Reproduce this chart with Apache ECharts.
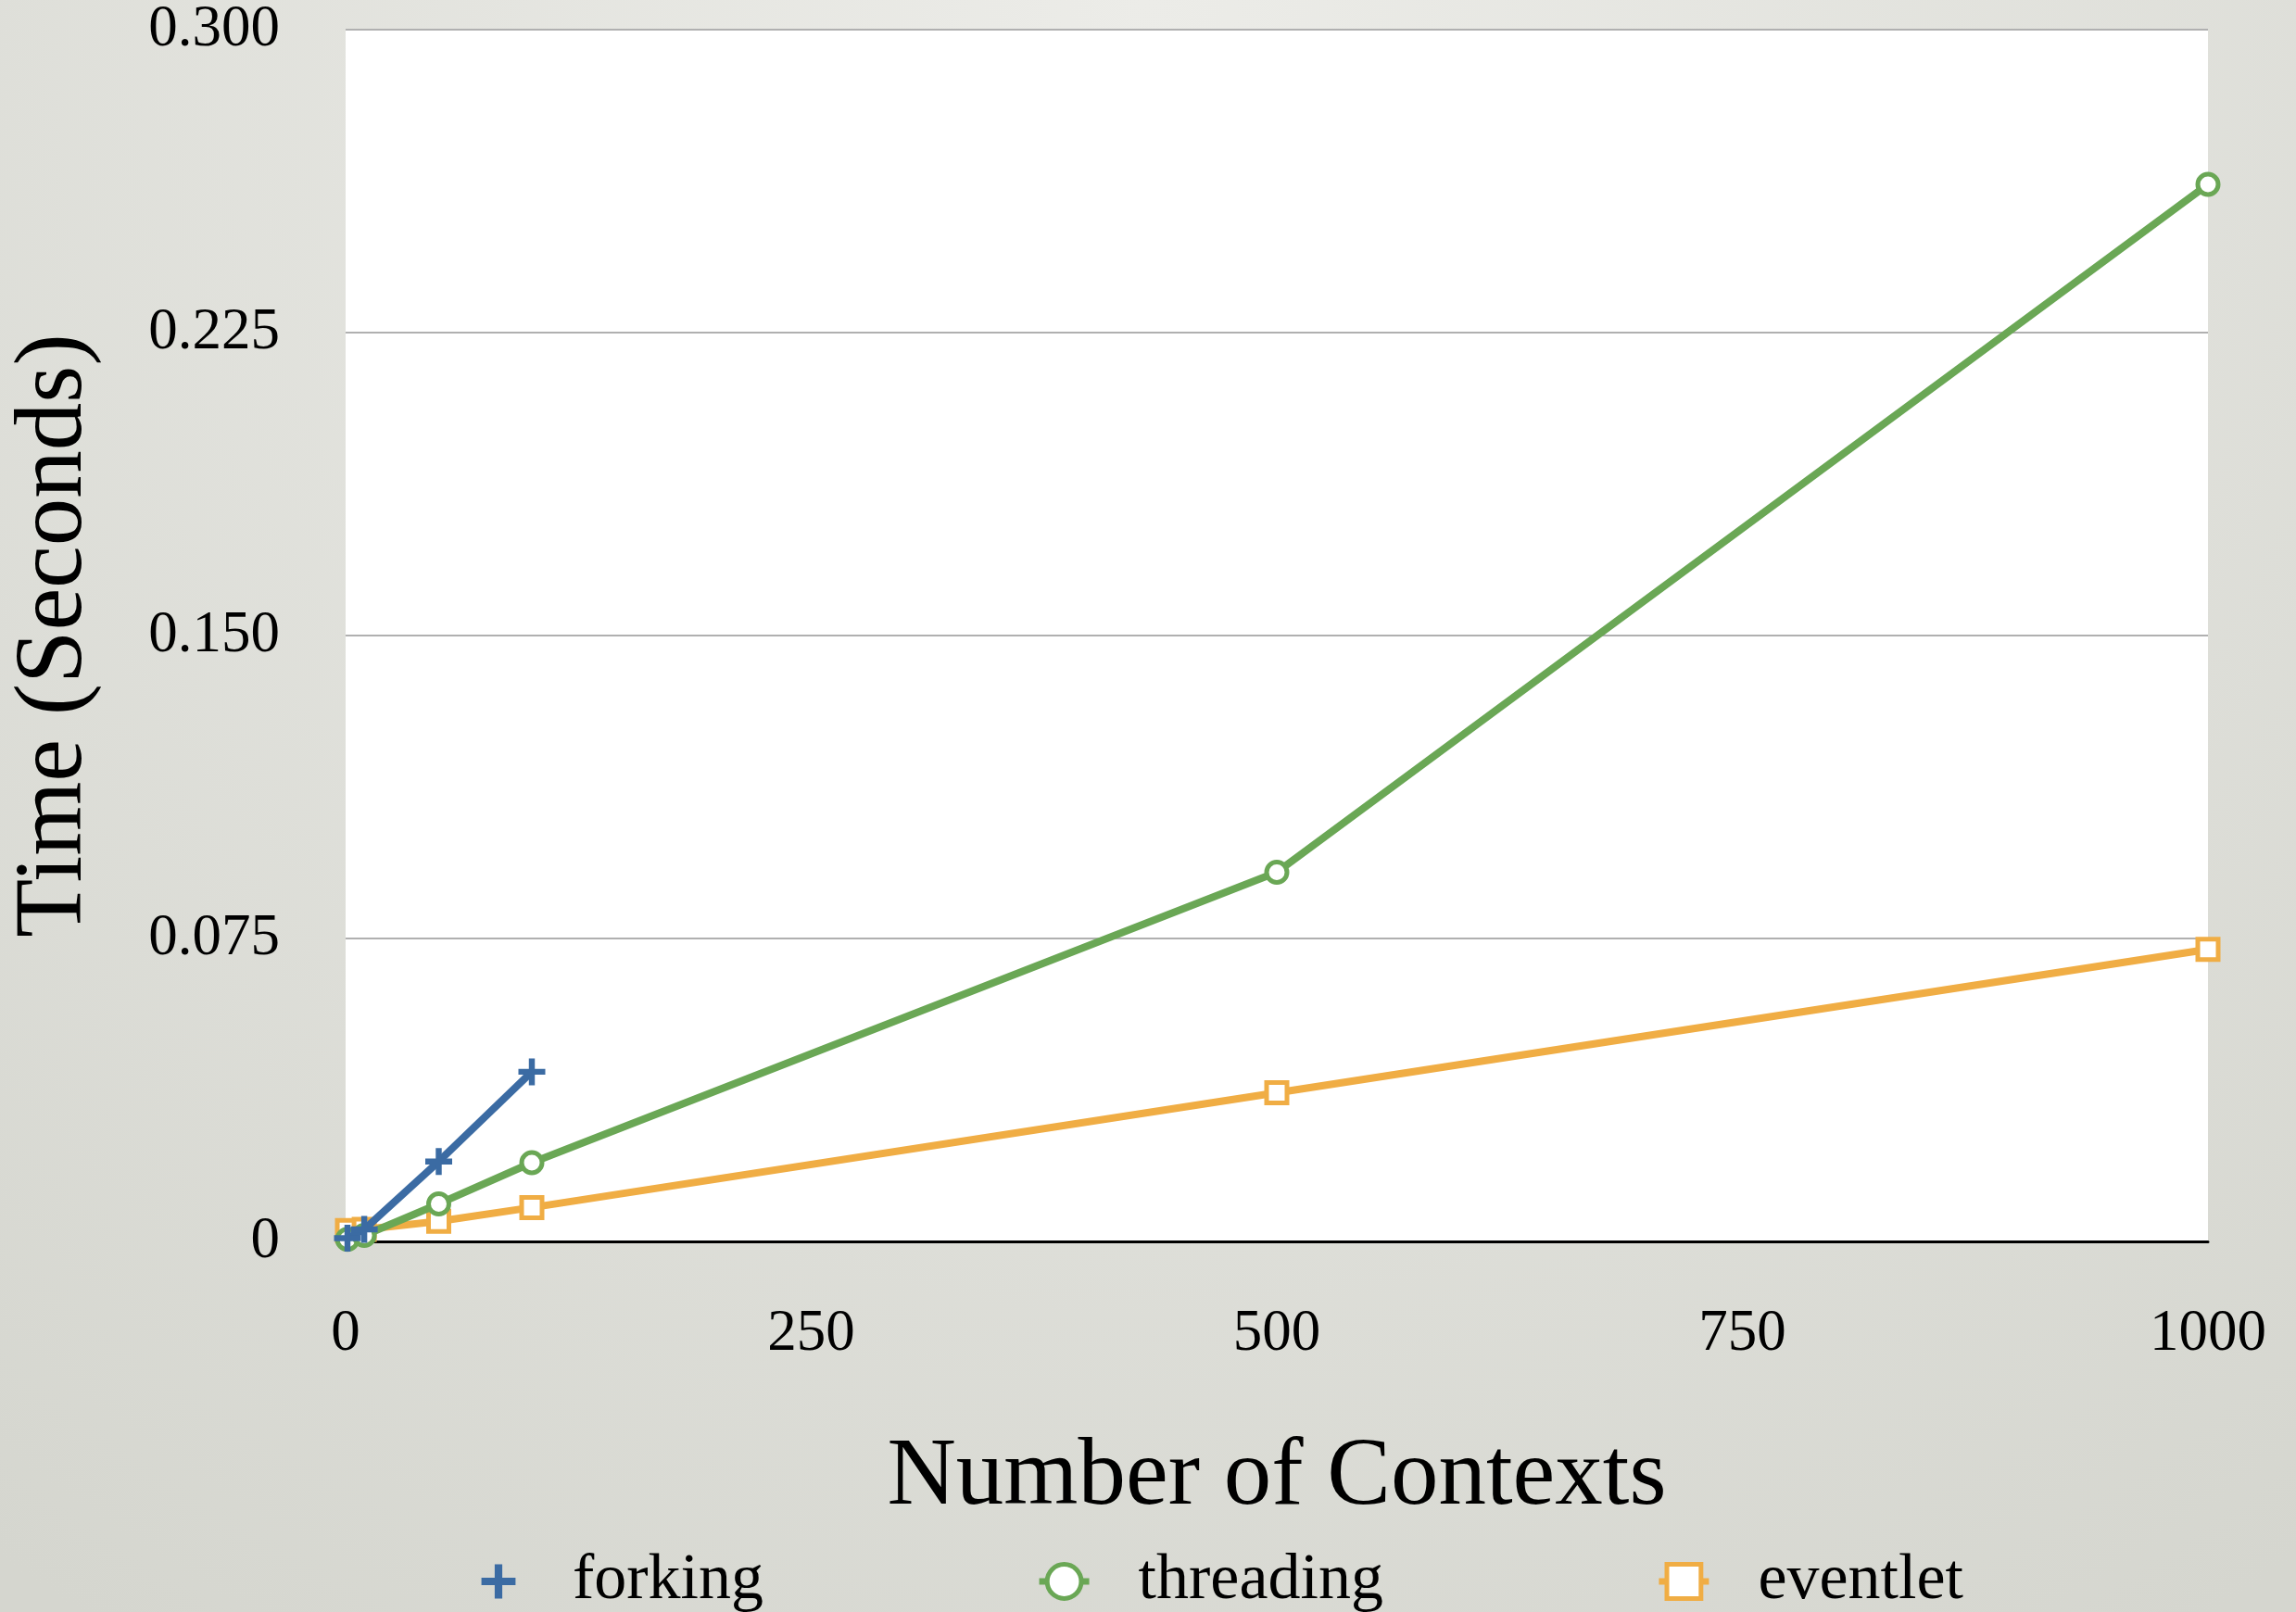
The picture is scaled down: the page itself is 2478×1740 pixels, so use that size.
<!DOCTYPE html>
<html>
<head>
<meta charset="utf-8">
<script src="https://cdn.jsdelivr.net/npm/echarts@6/dist/echarts.min.js"></script>
<style>
html,body{margin:0;padding:0;width:2478px;height:1740px;overflow:hidden;}
#chart{width:2478px;height:1740px;}
</style>
</head>
<body>
<div id="chart"></div>
<script>
// Data
const seriesNames = ['forking', 'threading', 'eventlet'];
const forkingX = [1, 10, 50, 100];
const forkingY = [0.0008, 0.003, 0.0198, 0.042];
const threadingX = [1, 10, 50, 100, 500, 1000];
const threadingY = [0.0005, 0.0015, 0.0093, 0.0195, 0.0914, 0.2617];
const eventletX = [1, 10, 50, 100, 500, 1000];
const eventletY = [0.0027, 0.003, 0.005, 0.0084, 0.0368, 0.0723];
const xTicks = [0, 250, 500, 750, 1000];
const yTicks = [0, 0.075, 0.150, 0.225, 0.300];
const xTitle = 'Number of Contexts';
const yTitle = 'Time (Seconds)';

const pair = (xs, ys) => xs.map((x, i) => [x, ys[i]]);
const FONT = "'Liberation Serif', 'DejaVu Serif', serif";
const BLUE = '#3b6ba3', GREEN = '#6aa755', ORANGE = '#f0ad44';
const PLUS = 'path://M10.5,0H16.5V10.5H27V16.5H16.5V27H10.5V16.5H0V10.5H10.5Z';

const chart = echarts.init(document.getElementById('chart'));
chart.setOption({
  animation: false,
  backgroundColor: {
    type: 'radial', x: 0.5, y: 0.0, r: 1.2,
    colorStops: [{offset: 0, color: '#ecece8'}, {offset: 1, color: '#d5d6cf'}]
  },
  textStyle: {fontFamily: FONT},
  grid: {
    left: 373, right: 95, top: 32, bottom: 400,
    show: true, backgroundColor: '#ffffff', borderWidth: 0
  },
  legend: {
    left: 506, top: 1667,
    itemWidth: 54, itemHeight: 46, itemGap: 294,
    lineStyle: {width: 7},
    itemStyle: {borderWidth: 5},
    textStyle: {fontFamily: FONT, fontSize: 70, color: '#000', padding: [0, 0, 0, 48]},
    data: [
      {name: seriesNames[0], lineStyle: {width: 0}, itemStyle: {borderWidth: 0}},
      {name: seriesNames[1]},
      {name: seriesNames[2]}
    ]
  },
  xAxis: {
    type: 'value', min: xTicks[0], max: xTicks[xTicks.length - 1], interval: 250,
    name: xTitle, nameLocation: 'middle', nameGap: 204,
    nameTextStyle: {fontFamily: FONT, fontSize: 103, color: '#000'},
    axisLine: {show: true, onZero: false, lineStyle: {color: '#000', width: 3}},
    axisTick: {show: false},
    splitLine: {show: false},
    axisLabel: {fontFamily: FONT, fontSize: 63, color: '#000', margin: 69,
      formatter: v => String(v)}
  },
  yAxis: {
    type: 'value', min: yTicks[0], max: yTicks[yTicks.length - 1], interval: 0.075,
    name: yTitle, nameLocation: 'middle', nameGap: 262,
    nameTextStyle: {fontFamily: FONT, fontSize: 103, color: '#000'},
    axisLine: {show: false},
    axisTick: {show: false},
    splitLine: {show: true, lineStyle: {color: '#b0b0b0', width: 2}},
    axisLabel: {fontFamily: FONT, fontSize: 63, color: '#000', margin: 71,
      formatter: v => v === 0 ? '0' : v.toFixed(3)}
  },
  series: [
    {
      name: seriesNames[0], type: 'line', data: pair(forkingX, forkingY),
      symbol: PLUS, symbolSize: 29, z: 4,
      lineStyle: {color: BLUE, width: 8},
      itemStyle: {color: BLUE}
    },
    {
      name: seriesNames[1], type: 'line', data: pair(threadingX, threadingY),
      symbol: 'circle', symbolSize: 22, z: 3,
      lineStyle: {color: GREEN, width: 8},
      itemStyle: {color: '#ffffff', borderColor: GREEN, borderWidth: 5}
    },
    {
      name: seriesNames[2], type: 'line', data: pair(eventletX, eventletY),
      symbol: 'rect', symbolSize: 22, z: 2,
      lineStyle: {color: ORANGE, width: 8},
      itemStyle: {color: '#ffffff', borderColor: ORANGE, borderWidth: 5}
    }
  ]
});
</script>
</body>
</html>
